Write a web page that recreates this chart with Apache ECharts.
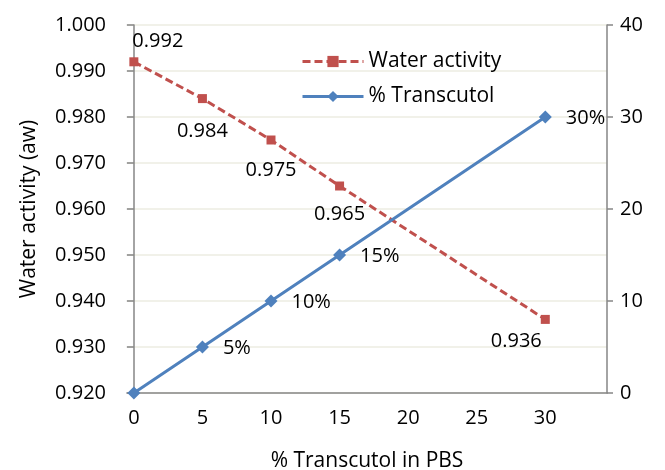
<!DOCTYPE html>
<html>
<head>
<meta charset="utf-8">
<script src="https://cdn.jsdelivr.net/npm/echarts@6/dist/echarts.min.js"></script>
<style>html,body{margin:0;padding:0;background:#fff}#c{width:665px;height:470px}</style>
</head>
<body>
<div id="c"></div>
<script>
// ---- data ----
const xValues = [0, 5, 10, 15, 30];
const waterActivity = [0.992, 0.984, 0.975, 0.965, 0.936];
const transcutol = [0, 5, 10, 15, 30];
const xTickLabels = [0, 5, 10, 15, 20, 25, 30];
const waterLabels = ['0.992', '0.984', '0.975', '0.965', '0.936'];
const transLabels = ['', '5%', '10%', '15%', '30%'];

// ---- label placement (style) ----
const waterLabelPos = [
  {position: 'top', offset: [24, -1]},
  {position: 'bottom', offset: [0, 13]},
  {position: 'bottom', offset: [0, 11]},
  {position: 'bottom', offset: [0, 9]},
  {position: 'bottom', offset: [-29, 2]}
];
const transLabelPos = [
  {position: 'right', offset: [9, 1]},
  {position: 'right', offset: [9, 1]},
  {position: 'right', offset: [9, 1]},
  {position: 'right', offset: [9, 1]},
  {position: 'right', offset: [9, 1]}
];

const FONT = 'Open Sans';
const FS = 20;      // numbers
const FT = 21;      // titles / legend
const axisColor = '#868686';

const waterData = xValues.map((x, i) => ({
  value: [x, waterActivity[i]],
  label: Object.assign({show: true, formatter: waterLabels[i]}, waterLabelPos[i])
}));
const transData = xValues.map((x, i) => ({
  value: [x, transcutol[i]],
  label: Object.assign({show: transLabels[i] !== '', formatter: transLabels[i]}, transLabelPos[i])
}));

const chart = echarts.init(document.getElementById('c'), null, {renderer: 'canvas'});
chart.setOption({
  animation: false,
  backgroundColor: '#fff',
  textStyle: {fontFamily: FONT, color: '#000'},
  grid: {left: 127, right: 58, top: 25, bottom: 77, containLabel: false, outerBoundsMode: 'none'},
  legend: {
    orient: 'vertical',
    left: 296,
    top: 46,
    itemGap: 14,
    itemWidth: 61,
    itemHeight: 14,
    lineStyle: {width: 3},
    textStyle: {fontFamily: FONT, fontSize: FT, color: '#000'},
    data: ['Water activity', '% Transcutol']
  },
  xAxis: {
    type: 'value',
    min: -0.5,
    max: 34.5,
    name: '% Transcutol in PBS',
    nameLocation: 'middle',
    nameGap: 58,
    nameTextStyle: {fontFamily: FONT, fontSize: FT, color: '#000', verticalAlign: 'top'},
    axisLine: {show: true, onZero: false, lineStyle: {color: axisColor, width: 1.5}},
    axisTick: {show: false},
    splitLine: {show: false},
    axisLabel: {
      customValues: xTickLabels,
      fontFamily: FONT, fontSize: FS, color: '#000', margin: 15
    }
  },
  yAxis: [
    {
      type: 'value',
      min: 0.92,
      max: 1.0,
      interval: 0.01,
      name: 'Water activity (aw)',
      nameLocation: 'middle',
      nameGap: 87,
      nameRotate: 90,
      nameTextStyle: {fontFamily: FONT, fontSize: FT, color: '#000'},
      axisLine: {show: true, lineStyle: {color: axisColor, width: 1.5}},
      axisTick: {show: true, length: 7, lineStyle: {color: axisColor, width: 1.5}},
      splitLine: {show: true, lineStyle: {color: '#EDEDE2', width: 1.5}},
      axisLabel: {
        formatter: v => v.toFixed(3),
        fontFamily: FONT, fontSize: FS, color: '#000', margin: 21
      }
    },
    {
      type: 'value',
      min: 0,
      max: 40,
      interval: 10,
      position: 'right',
      axisLine: {show: true, lineStyle: {color: axisColor, width: 1.5}},
      axisTick: {show: true, length: 6, lineStyle: {color: axisColor, width: 1.5}},
      splitLine: {show: false},
      axisLabel: {fontFamily: FONT, fontSize: FS, color: '#000', margin: 13}
    }
  ],
  series: [
    {
      name: 'Water activity',
      type: 'line',
      yAxisIndex: 0,
      data: waterData,
      symbol: 'rect',
      symbolSize: 9,
      itemStyle: {color: '#C0504D'},
      lineStyle: {color: '#C0504D', width: 3, type: [8, 4]},
      label: {fontFamily: FONT, fontSize: FS, color: '#000'},
      z: 3
    },
    {
      name: '% Transcutol',
      type: 'line',
      yAxisIndex: 1,
      data: transData,
      symbol: 'diamond',
      symbolSize: 13,
      itemStyle: {color: '#4F81BD'},
      lineStyle: {color: '#4F81BD', width: 3},
      label: {fontFamily: FONT, fontSize: FS, color: '#000'},
      z: 4
    }
  ]
});
</script>
</body>
</html>
